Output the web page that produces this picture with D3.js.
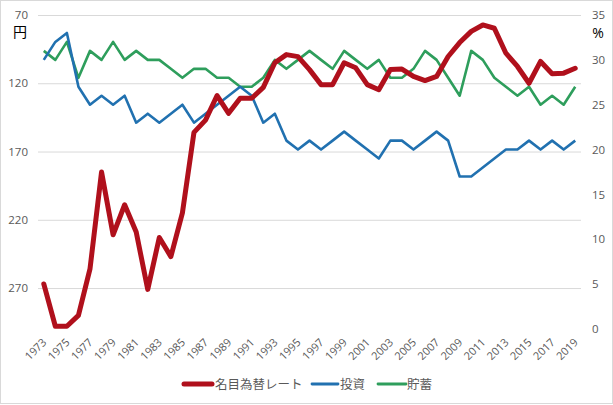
<!DOCTYPE html>
<html><head><meta charset="utf-8">
<script src="https://cdn.jsdelivr.net/npm/d3@7"></script>
<style>
html,body{margin:0;padding:0;background:#fff;}
svg{display:block;}
</style></head>
<body>
<svg id="c" width="613" height="405"></svg>
<script>
const years = d3.range(1973, 2020);
const xTickLabels = years.filter(y => (y - 1973) % 2 === 0).map(String);
const leftTicks = [70, 120, 170, 220, 270];
const rightTicks = [0, 5, 10, 15, 20, 25, 30, 35];
const exchangeRate = [267, 298, 298, 290, 256, 185, 231, 209, 229, 271, 233, 247, 215, 156, 147, 129, 142, 131, 131, 123,
  105, 99, 100.5, 110, 121, 121, 105, 108.7, 121, 124.7, 110, 109.6, 115, 118, 115, 100.4, 90.2, 82, 77.3, 79.7,
  98, 107.7, 120, 104, 113, 112.6, 109];
const investment = [30, 32, 33, 27, 25, 26, 25, 26, 23, 24, 23, 24, 25, 23, 24, 25, 26, 27, 26, 23,
  24, 21, 20, 21, 20, 21, 22, 21, 20, 19, 21, 21, 20, 21, 22, 21, 17, 17, 18, 19,
  20, 20, 21, 20, 21, 20, 21];
const saving = [31, 30, 32, 28, 31, 30, 32, 30, 31, 30, 30, 29, 28, 29, 29, 28, 28, 27, 27, 28,
  30, 29, 30, 31, 30, 29, 31, 30, 29, 30, 28, 28, 29, 31, 30, 28, 26, 31, 30, 28,
  27, 26, 27, 25, 26, 25, 27];
const seriesNames = ["名目為替レート", "投資", "貯蓄"];
const colors = ["#b0101c", "#2171b0", "#2e9e5c"];

const svg = d3.select("#c");
const W = 613, H = 405;
const pLeft = 38, pRight = 581, pTop = 15, pBottom = 329;

svg.append("rect").attr("x", 0.5).attr("y", 0.5).attr("width", W - 1).attr("height", H - 2)
  .attr("fill", "#fff").attr("stroke", "#d9d9d9");

const x = d3.scalePoint().domain(years).range([pLeft, pRight]).padding(0.5);
const yL = d3.scaleLinear().domain([70, 300]).range([pTop, pBottom]);
const yR = d3.scaleLinear().domain([0, 35]).range([pBottom, pTop]);

const numFont = "'Open Sans', 'Liberation Sans', sans-serif";
const jpFont = "'Noto Sans CJK JP', sans-serif";

// gridlines from left axis
const gl = svg.append("g").attr("transform", `translate(${pLeft},0)`)
  .call(d3.axisLeft(yL).tickValues(leftTicks).tickSize(-(pRight - pLeft)).tickFormat(""));
gl.select(".domain").remove();
gl.selectAll("line").attr("stroke", "#d9d9d9").attr("stroke-width", 1);

// left axis labels
const la = svg.append("g").attr("transform", `translate(${pLeft},0)`)
  .call(d3.axisLeft(yL).tickValues(leftTicks).tickSize(0).tickPadding(10));
la.select(".domain").remove();
la.selectAll("text").attr("fill", "#595959").style("font-family", numFont).style("font-size", "11.5px");

// right axis labels
const ra = svg.append("g").attr("transform", `translate(${pRight},0)`)
  .call(d3.axisRight(yR).tickValues(rightTicks).tickSize(0).tickPadding(11));
ra.select(".domain").remove();
ra.selectAll("text").attr("fill", "#595959").style("font-family", numFont).style("font-size", "11.5px");

// x axis
const xa = svg.append("g").attr("transform", `translate(0,${pBottom})`)
  .call(d3.axisBottom(x).tickValues(years.filter((y, i) => i % 2 === 0)).tickSize(0).tickPadding(0)
    .tickFormat((d, i) => xTickLabels[i]));
xa.select(".domain").remove();
xa.selectAll("text")
  .attr("fill", "#595959").style("font-family", numFont).style("font-size", "11px")
  .attr("text-anchor", "end").attr("dy", "0").attr("y", 0)
  .attr("transform", "translate(3,14) rotate(-45)");

// unit labels
svg.append("text").attr("x", 20).attr("y", 37).attr("text-anchor", "middle")
  .style("font-family", jpFont).style("font-size", "14px").attr("fill", "#000").text("円");
svg.append("text").attr("x", 598).attr("y", 38).attr("text-anchor", "middle")
  .style("font-family", numFont).style("font-size", "14px").attr("fill", "#000").text("%");

// lines
const lineL = d3.line().x((d, i) => x(years[i])).y(d => yL(d));
const lineR = d3.line().x((d, i) => x(years[i])).y(d => yR(d));
svg.append("path").datum(saving).attr("d", lineR).attr("fill", "none")
  .attr("stroke", colors[2]).attr("stroke-width", 2.6).attr("stroke-linejoin", "round");
svg.append("path").datum(investment).attr("d", lineR).attr("fill", "none")
  .attr("stroke", colors[1]).attr("stroke-width", 2.6).attr("stroke-linejoin", "round");
svg.append("path").datum(exchangeRate).attr("d", lineL).attr("fill", "none")
  .attr("stroke", colors[0]).attr("stroke-width", 5).attr("stroke-linejoin", "round").attr("stroke-linecap", "round");

// legend
const legendItems = [
  {x1: 184, x2: 212, tx: 215, w: 5},
  {x1: 312, x2: 338, tx: 340, w: 2.8},
  {x1: 378, x2: 406, tx: 407, w: 2.8}
];
const lg = svg.append("g");
legendItems.forEach((it, i) => {
  lg.append("line").attr("x1", it.x1).attr("x2", it.x2).attr("y1", 384).attr("y2", 384)
    .attr("stroke", colors[i]).attr("stroke-width", it.w).attr("stroke-linecap", "round");
  lg.append("text").attr("x", it.tx).attr("y", 389).attr("fill", "#595959")
    .style("font-family", jpFont).style("font-size", "12.5px").text(seriesNames[i]);
});
</script>
</body></html>
